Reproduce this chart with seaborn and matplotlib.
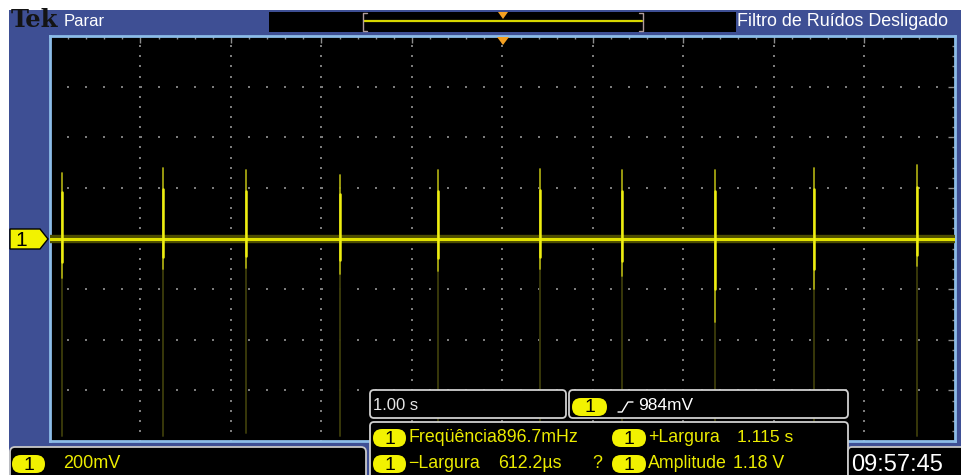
import numpy as np
import pandas as pd
import seaborn as sns
import matplotlib.pyplot as plt
from matplotlib.patches import Rectangle, FancyBboxPatch, Polygon
from matplotlib.lines import Line2D
from matplotlib.transforms import IdentityTransform

# scope settings / readings
time_per_div = 1.00      # s
volts_per_div = 0.200    # V
baseline = 0.0

# spike events (s, V)
spike_t = [-4.87, -3.75, -2.83, -1.80, -0.71, 0.41, 1.32, 2.35, 3.44, 4.58]
spike_up = [0.26, 0.28, 0.27, 0.25, 0.27, 0.275, 0.27, 0.27, 0.28, 0.29]
spike_dn = [-0.155, -0.12, -0.115, -0.14, -0.13, -0.12, -0.15, -0.33, -0.20, -0.11]
tail_dn = [-0.78, -0.78, -0.77, -0.78, -0.78, -0.78, -0.78, -0.78, -0.77, -0.78]

meas_labels = ["Freqüência896.7mHz", "+Largura", "1.115 s",
               "\u2212Largura", "612.2µs", "Amplitude", "1.18 V"]

BLUE = "#3e4f94"
YEL = "#ecec00"
W, H = 962, 475

sns.set_style("dark")
plt.rcParams["font.family"] = ["Liberation Sans", "DejaVu Sans"]

fig = plt.figure(figsize=(W / 100, H / 100), dpi=100, facecolor="white")
PX = IdentityTransform()


def Y(y):
    return H - y


def box(x0, y0, x1, y1, r=0, **kw):
    if r:
        p = FancyBboxPatch((x0, Y(y1)), x1 - x0, y1 - y0,
                           boxstyle=f"round,pad=0,rounding_size={r}",
                           transform=PX, **kw)
    else:
        p = Rectangle((x0, Y(y1)), x1 - x0, y1 - y0, transform=PX, **kw)
    fig.patches.append(p)


def line(pts, **kw):
    fig.lines.append(Line2D([p[0] for p in pts], [Y(p[1]) for p in pts],
                            transform=PX, **kw))


def txt(x, y, s, **kw):
    kw.setdefault("va", "center")
    fig.text(x, Y(y), s, transform=PX, **kw)


def pill(x0, y0, x1, y1):
    box(x0, y0, x1, y1, r=(y1 - y0) / 2, fc="#f2f200", ec="none", zorder=6)
    txt((x0 + x1) / 2, (y0 + y1) / 2 + 1, "1", ha="center", fontsize=14,
        color="black", zorder=7)


# blue frame
box(9, 10, W + 2, H + 2, fc=BLUE, ec="none", zorder=-2)

# graticule
ax = fig.add_axes([50 / W, 1 - 441 / H, (955 - 50) / W, (441 - 36) / H])
ax.set_facecolor("black")

gx, gy = [], []
for xv in np.arange(-4, 4.5, 1):
    for yv in np.arange(-0.8, 0.81, 0.04):
        gx.append(xv); gy.append(yv)
for yv in np.arange(-0.6, 0.61, 0.2):
    for xv in np.arange(-5, 5.01, 0.2):
        gx.append(xv); gy.append(yv)
ax.scatter(gx, gy, s=1.6, marker="s", color="#7c7c7c", linewidths=0, zorder=1)

# trace
base_df = pd.DataFrame({"t": [-5, 5], "v": [baseline, baseline]})
rows_tail, rows_spk, rows_core = [], [], []
for i, t in enumerate(spike_t):
    rows_tail += [(i, t, baseline), (i, t, tail_dn[i])]
    rows_spk += [(i, t, spike_dn[i]), (i, t, spike_up[i])]
    rows_core += [(i, t, spike_dn[i] * 0.6), (i, t, spike_up[i] * 0.7)]
tail_df = pd.DataFrame(rows_tail, columns=["id", "t", "v"])
spk_df = pd.DataFrame(rows_spk, columns=["id", "t", "v"])
core_df = pd.DataFrame(rows_core, columns=["id", "t", "v"])

sns.lineplot(data=tail_df, x="t", y="v", units="id", estimator=None,
             color="#38380a", lw=1.4, ax=ax, legend=False, zorder=2)
sns.lineplot(data=base_df, x="t", y="v", color="#4e4e00", lw=6.0, ax=ax,
             zorder=3)
sns.lineplot(data=spk_df, x="t", y="v", units="id", estimator=None,
             color="#a4a410", lw=1.3, ax=ax, legend=False, zorder=4)
sns.lineplot(data=base_df, x="t", y="v", color="#e2e200", lw=2.2, ax=ax,
             zorder=5)
sns.lineplot(data=core_df, x="t", y="v", units="id", estimator=None,
             color="#eeee10", lw=1.8, ax=ax, legend=False, zorder=6)

ax.set_xlim(-5 * time_per_div, 5 * time_per_div)
ax.set_ylim(-4 * volts_per_div, 4 * volts_per_div)
ax.set_xticks(np.arange(-5, 5.01, 1))
ax.set_xticks(np.arange(-5, 5.01, 0.2), minor=True)
ax.set_yticks(np.arange(-0.8, 0.81, 0.2))
ax.set_yticks(np.arange(-0.8, 0.81, 0.04), minor=True)
ax.tick_params(which="both", direction="in", top=True, right=True,
               labelbottom=False, labelleft=False, color="#8c8c8c", width=1)
ax.tick_params(which="major", length=5)
ax.tick_params(which="minor", length=2.5)
ax.set(xlabel=None, ylabel=None)
ax.grid(False)
for s in ax.spines.values():
    s.set_color("#8cbce8")
    s.set_linewidth(2)

# top bar
txt(11, 20, "Tek", family="DejaVu Serif", fontweight="bold", fontsize=17.5,
    color="#141414")
txt(64, 22, "Parar", fontsize=12, color="white")
box(269, 12, 736, 32, fc="black", ec="none", zorder=3)
line([(364, 21), (642, 21)], color="#d8d800", lw=1.6, zorder=4)
line([(367, 13), (363, 13), (363, 31), (367, 31)], color="#b09c9c", lw=1, zorder=4)
line([(639, 13), (643, 13), (643, 31), (639, 31)], color="#b09c9c", lw=1, zorder=4)
fig.patches.append(Polygon([(498, Y(12)), (508, Y(12)), (503, Y(19))],
                           closed=True, fc="#f4a020", ec="none",
                           transform=PX, zorder=5))
fig.patches.append(Polygon([(497, Y(37)), (509, Y(37)), (503, Y(45))],
                           closed=True, fc="#f4a020", ec="none",
                           transform=PX, zorder=5))
txt(737, 22, "Filtro de Ruídos Desligado", fontsize=12.9, color="white")

# channel marker
fig.patches.append(Polygon([(10, Y(229)), (40, Y(229)), (48, Y(239)),
                            (40, Y(249)), (10, Y(249))], closed=True,
                           fc="#f2f200", ec="black", lw=1, transform=PX,
                           zorder=5))
txt(21, 240, "1", ha="center", fontsize=15, color="black", zorder=6)

# bottom boxes
box(10, 447, 366, 485, r=5, fc="black", ec="#c8c8c8", lw=1.3, zorder=5)
pill(12, 455, 45, 473)
txt(63, 464, "200mV", fontsize=13, color=YEL, zorder=7)

box(370, 390, 566, 418, r=4, fc="black", ec="#d0d0d0", lw=1.3, zorder=5)
txt(373, 405, "1.00 s", fontsize=12, color="#e6e6e6", zorder=7)

box(569, 390, 848, 418, r=4, fc="black", ec="#d0d0d0", lw=1.3, zorder=5)
pill(572, 398, 607, 416)
line([(618, 412), (622, 412), (628, 402), (633, 402)], color="white", lw=1,
     zorder=7)
txt(638, 406, "984mV", fontsize=12.5, color="white", zorder=7)

box(370, 422, 848, 485, r=4, fc="black", ec="#d0d0d0", lw=1.3, zorder=5)
pill(373, 429, 406, 447)
pill(612, 429, 646, 447)
pill(373, 455, 406, 473)
pill(612, 455, 646, 473)
txt(408, 438, meas_labels[0], fontsize=12.8, color=YEL, zorder=7)
txt(648, 438, meas_labels[1], fontsize=12.8, color=YEL, zorder=7)
txt(737, 438, meas_labels[2], fontsize=12.5, color=YEL, zorder=7)
txt(408, 464, meas_labels[3], fontsize=12.8, color=YEL, zorder=7)
txt(498, 464, meas_labels[4], fontsize=12.8, color=YEL, zorder=7)
txt(592, 464, "?", fontsize=12.8, color=YEL, zorder=7)
txt(648, 464, meas_labels[5], fontsize=12.8, color=YEL, zorder=7)
txt(733, 464, meas_labels[6], fontsize=12.8, color=YEL, zorder=7)

box(848, 447, W + 10, H + 10, r=4, fc="black", ec="#c8c8c8", lw=1.3, zorder=5)
txt(851, 465, "09:57:45", fontsize=17, color="white", zorder=7)

fig.savefig("out.png", dpi=100, facecolor="white")
